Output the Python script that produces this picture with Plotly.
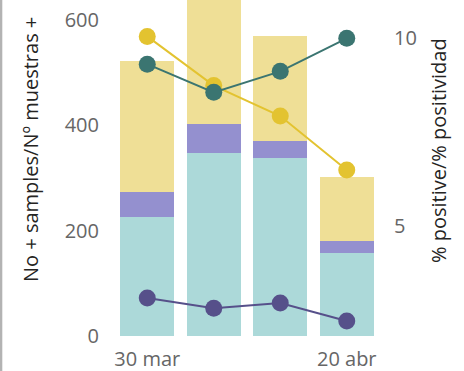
import plotly.graph_objects as go

dates = ["2020-03-30", "2020-04-06", "2020-04-13", "2020-04-20"]
x_tick_vals = ["2020-03-30", "2020-04-20"]
x_tick_text = ["30 mar", "20 abr"]

bar_cyan = [226, 347, 337, 157]
bar_purple = [47, 55, 33, 23]
bar_yellow = [248, 288, 199, 121]

line_yellow = [10.05, 8.74, 7.93, 6.49]
line_teal = [9.31, 8.56, 9.12, 10.0]
line_purple = [3.08, 2.81, 2.95, 2.47]

left_title = "No + samples/Nº muestras +"
right_title = "% positive/% positividad"

FONT = "Open Sans"

fig = go.Figure()
fig.add_trace(go.Bar(x=dates, y=bar_cyan, marker=dict(color="#ACD9D9", line=dict(width=0))))
fig.add_trace(go.Bar(x=dates, y=bar_purple, marker=dict(color="#9490CF", line=dict(width=0))))
fig.add_trace(go.Bar(x=dates, y=bar_yellow, marker=dict(color="#EFDF96", line=dict(width=0))))

for vals, col in [(line_yellow, "#E3C330"), (line_teal, "#3B7571"), (line_purple, "#56508A")]:
    fig.add_trace(go.Scatter(x=dates, y=vals, yaxis="y2", mode="lines+markers",
                             line=dict(color=col, width=2),
                             marker=dict(color=col, size=17)))

fig.update_layout(
    width=464, height=371,
    margin=dict(l=114, r=84, t=0, b=35),
    paper_bgcolor="white", plot_bgcolor="white",
    barmode="stack", bargap=0.19, showlegend=False,
    font=dict(family=FONT, size=20, color="#666666"),
    xaxis=dict(type="date", range=["2020-03-26 12:00", "2020-04-23 12:00"],
               tickvals=x_tick_vals, ticktext=x_tick_text,
               showgrid=False, zeroline=False, showline=False, ticks="", ticklabelstandoff=9),
    yaxis=dict(range=[0, 637], tickvals=[0, 200, 400, 600], showgrid=False,
               zeroline=False, showline=False, ticks="", ticklabelstandoff=14),
    yaxis2=dict(range=[2.07, 11.02], overlaying="y", side="right", tickvals=[5, 10],
                showgrid=False, zeroline=False, showline=False, ticks="", ticklabelstandoff=13),
    annotations=[
        dict(text=left_title, xref="paper", yref="paper", x=(30 - 114) / 266, y=(336 - 150) / 336,
             textangle=-90, showarrow=False, font=dict(family=FONT, size=20, color="#252423"),
             xanchor="center", yanchor="middle"),
        dict(text=right_title, xref="paper", yref="paper", x=(438 - 114) / 266, y=(336 - 151) / 336,
             textangle=-90, showarrow=False, font=dict(family=FONT, size=20, color="#252423"),
             xanchor="center", yanchor="middle"),
    ],
    shapes=[dict(type="rect", xref="paper", yref="paper", x0=-114 / 266, x1=(2.3 - 114) / 266,
                 y0=-35 / 336, y1=1.0, fillcolor="#B3B3B3", line=dict(width=0), layer="above")],
)

fig.write_html("out.html", config={"displayModeBar": False},
               post_script="document.body.style.margin='0';document.body.style.padding='0';")
